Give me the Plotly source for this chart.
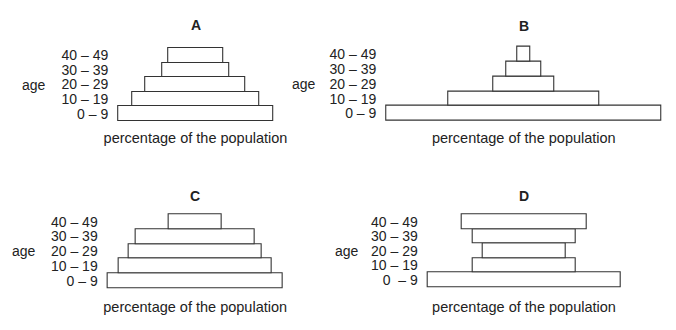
import plotly.graph_objects as go

# Age groups, bottom (youngest) to top (oldest)
age_groups = ["0 – 9", "10 – 19", "20 – 29", "30 – 39", "40 – 49"]
age_groups_d = ["0\u00a0 – 9", "10 – 19", "20 – 29", "30 – 39", "40 – 49"]

# Percentage of the population in each age group, one list per pyramid
pct_a = [30.9, 25.5, 20.0, 13.5, 11.1]
pct_b = [55.0, 30.1, 12.3, 7.1, 2.7]
pct_c = [35.0, 30.7, 26.7, 23.7, 10.7]
pct_d = [38.5, 20.6, 16.6, 20.7, 25.0]

panel_names = ["A", "B", "C", "D"]
axis_title = "percentage of the population"
age_word = "age"

W, H = 676, 330
PX_PER_UNIT = 5.0
FONT = "Arial, Liberation Sans, sans-serif"
INK = "#222222"
TICK_SIZE = 14

# Page placement of each pyramid (pixels): centre line, top and bottom of the stack
frames = [
    dict(cx=195.5, top=48.0, bottom=121.0, title_y=25.0, age_right=47.7, standoff=8),
    dict(cx=523.8, top=46.7, bottom=121.0, title_y=25.7, age_right=317.7, standoff=8),
    dict(cx=195.2, top=214.3, bottom=288.3, title_y=195.7, age_right=38.3, standoff=10),
    dict(cx=524.0, top=214.3, bottom=287.3, title_y=195.7, age_right=361.3, standoff=11.5),
]

series = [pct_a, pct_b, pct_c, pct_d]
labels = [age_groups, age_groups, age_groups, age_groups_d]

fig = go.Figure()
annotations = []
PAD = 3.0

for i, (vals, labs, fr, name) in enumerate(zip(series, labels, frames, panel_names)):
    n = i + 1
    xa = "x" if n == 1 else f"x{n}"
    ya = "y" if n == 1 else f"y{n}"
    pos = list(range(len(vals)))

    fig.add_trace(go.Bar(
        orientation="h",
        y=pos,
        x=vals,
        base=[-v / 2 for v in vals],
        width=1.0,
        marker=dict(color="white", line=dict(color="#333333", width=1.1)),
        xaxis=xa, yaxis=ya,
        hoverinfo="skip",
        showlegend=False,
    ))

    half_px = max(vals) / 2 * PX_PER_UNIT + PAD
    x_dom = [(fr["cx"] - half_px) / W, (fr["cx"] + half_px) / W]
    x_rng = [-half_px / PX_PER_UNIT, half_px / PX_PER_UNIT]

    ppu = (fr["bottom"] - fr["top"]) / len(vals)
    y_dom = [1 - (fr["bottom"] + PAD) / H, 1 - (fr["top"] - PAD) / H]
    y_rng = [-0.5 - PAD / ppu, len(vals) - 0.5 + PAD / ppu]

    xkey = "xaxis" if n == 1 else f"xaxis{n}"
    ykey = "yaxis" if n == 1 else f"yaxis{n}"
    fig.update_layout({
        xkey: dict(
            domain=x_dom, range=x_rng, anchor=ya,
            showgrid=False, zeroline=False, showline=False,
            showticklabels=False, ticks="", fixedrange=True,
            title=dict(text=axis_title, standoff=fr["standoff"],
                       font=dict(family=FONT, size=14.5, color=INK)),
        ),
        ykey: dict(
            domain=y_dom, range=y_rng, anchor=xa,
            showgrid=False, zeroline=False, showline=False,
            tickmode="array", tickvals=pos, ticktext=labs,
            ticks="", ticklabelstandoff=6, fixedrange=True,
            tickfont=dict(family=FONT, size=TICK_SIZE, color=INK),
        ),
    })

    annotations.append(dict(
        text=f"<b>{name}</b>", xref="paper", yref="paper",
        x=fr["cx"] / W, y=1 - fr["title_y"] / H,
        xanchor="center", yanchor="middle", showarrow=False,
        font=dict(family=FONT, size=14, color=INK),
    ))
    annotations.append(dict(
        text=age_word, xref="paper", yref=ya,
        x=fr["age_right"] / W, y=2,
        xanchor="right", yanchor="middle", showarrow=False,
        font=dict(family=FONT, size=TICK_SIZE, color=INK),
    ))

fig.update_layout(
    width=W, height=H,
    margin=dict(l=0, r=0, t=0, b=0),
    paper_bgcolor="white", plot_bgcolor="white",
    annotations=annotations,
    bargap=0,
)

fig.write_html("out.html", config={"displayModeBar": False})
